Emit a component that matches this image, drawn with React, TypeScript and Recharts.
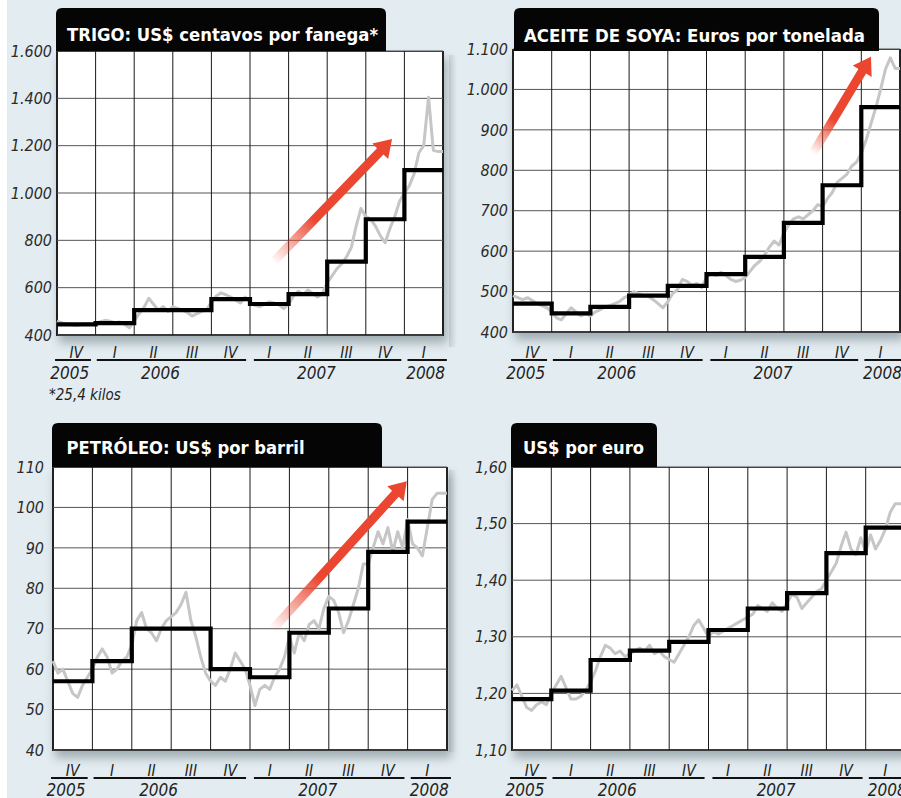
import React from "react";
import { LineChart, Line, XAxis, YAxis, CartesianGrid, ReferenceLine } from "recharts";

// quarter labels from Q4 2005 to Q1 2008, x axis runs 0..10 in quarters
const QUARTERS = ["IV", "I", "II", "III", "IV", "I", "II", "III", "IV", "I"];
const QUARTER_TICKS = [0.5, 1.5, 2.5, 3.5, 4.5, 5.5, 6.5, 7.5, 8.5, 9.5];
const QUARTER_BOUNDS = [1, 2, 3, 4, 5, 6, 7, 8, 9];
const YEARS = ["2005", "2006", "2007", "2008"];
const YEAR_CENTERS = [0.33, 2.68, 6.72, 9.55];
const YEAR_SPANS = [[-0.05, 0.88], [1.03, 4.9], [5.1, 8.92], [9.08, 10.1]];
const SAMPLES_PER_QUARTER = 8;

// Trigo, US$ centavos por fanega
const TRIGO_DAILY = [
  458, 452, 447, 443, 440, 445, 448, 444,
  450, 456, 462, 458, 452, 455, 445, 430,
  460, 490, 515, 555, 530, 505, 520, 500,
  520, 512, 505, 495, 480, 490, 500, 505,
  540, 565, 578, 570, 560, 548, 535, 560,
  540, 525, 520, 530, 540, 535, 528, 512,
  530, 565, 585, 570, 590, 575, 560, 575,
  620, 650, 680, 700, 730, 770, 860, 935,
  900, 890, 860, 820, 790, 850, 900, 965,
  1000, 1030, 1080, 1170, 1200, 1405, 1180, 1175, 1175,
];
const TRIGO_QUARTER = [445, 450, 505, 505, 552, 531, 573, 710, 889, 1097];
const TRIGO_TICKS = [400, 600, 800, 1000, 1200, 1400, 1600];
const TRIGO_ARROW = [5.6, 708, 8.68, 1228];

// Aceite de soya, euros por tonelada
const SOYA_DAILY = [
  490, 485, 480, 485, 478, 470, 465, 460,
  450, 435, 430, 445, 460, 450, 440, 445,
  440, 450, 455, 462, 465, 470, 475, 485,
  490, 500, 495, 490, 488, 480, 470, 460,
  475, 495, 505, 530, 525, 515, 520, 510,
  535, 545, 540, 548, 540, 530, 525, 528,
  535, 550, 565, 575, 590, 610, 625, 615,
  645, 665, 680, 685, 680, 690, 700, 715,
  710, 730, 745, 770, 780, 790, 810, 820,
  842, 875, 915, 955, 1000, 1050, 1078, 1052, 1052,
];
const SOYA_QUARTER = [470, 446, 462, 490, 514, 543, 586, 670, 763, 956];
const SOYA_TICKS = [400, 500, 600, 700, 800, 900, 1000, 1100];
const SOYA_ARROW = [7.75, 842, 9.25, 1081];

// Petroleo, US$ por barril
const OIL_DAILY = [
  62, 59, 60, 57, 54, 53, 56, 58,
  60, 63, 65, 63, 59, 60, 62, 63,
  66, 72, 74, 70, 69, 67, 70, 72,
  73, 74, 76, 79, 72, 68, 63, 59,
  57, 56, 58, 57, 60, 64, 62, 60,
  56, 51, 55, 56, 55, 58, 60, 63,
  68, 64, 69, 67, 71, 72, 70, 75,
  78, 77, 74, 69, 72, 76, 80, 86,
  86, 90, 94, 91, 95, 89, 94, 90,
  97, 91, 90, 88, 95, 102, 103.5, 103.5, 103.5,
];
const OIL_QUARTER = [57, 62, 70, 70, 60, 58, 69, 75, 89, 96.5];
const OIL_TICKS = [40, 50, 60, 70, 80, 90, 100, 110];
const OIL_ARROW = [5.56, 69.7, 8.98, 106.5];

// US$ por euro
const EUR_DAILY = [
  1.205, 1.215, 1.195, 1.175, 1.17, 1.18, 1.185, 1.18,
  1.2, 1.215, 1.23, 1.21, 1.19, 1.19, 1.195, 1.205,
  1.22, 1.24, 1.265, 1.285, 1.28, 1.27, 1.275, 1.265,
  1.27, 1.275, 1.28, 1.275, 1.285, 1.27, 1.275, 1.265,
  1.26, 1.255, 1.27, 1.285, 1.3, 1.32, 1.33, 1.315,
  1.3, 1.31, 1.305, 1.31, 1.315, 1.32, 1.325, 1.33,
  1.335, 1.34, 1.355, 1.35, 1.345, 1.36, 1.35, 1.345,
  1.36, 1.375, 1.37, 1.35, 1.36, 1.37, 1.38, 1.385,
  1.4, 1.415, 1.43, 1.46, 1.485, 1.455, 1.445, 1.475,
  1.45, 1.48, 1.455, 1.47, 1.49, 1.52, 1.535, 1.535, 1.535,
];
const EUR_QUARTER = [1.19, 1.205, 1.259, 1.2755, 1.291, 1.312, 1.35, 1.377, 1.448, 1.493];
const EUR_TICKS = [1.1, 1.2, 1.3, 1.4, 1.5, 1.6];

const BG = "#e3ecf0";
const NARROW =
  "'Liberation Sans Narrow', 'Arial Narrow', 'DejaVu Sans Condensed', 'Roboto Condensed', 'Liberation Sans', Arial, sans-serif";

const thousands = (v: number) =>
  v >= 1000 ? `${Math.floor(v / 1000)}.${String(v % 1000).padStart(3, "0")}` : String(v);
const comma2 = (v: number) => v.toFixed(2).replace(".", ",");

function dailyPoints(vals: number[]) {
  return vals.map((v, i) => ({ x: i / SAMPLES_PER_QUARTER, v }));
}
function stepPoints(vals: number[]) {
  const pts = vals.map((v, i) => ({ x: i, v }));
  pts.push({ x: vals.length, v: vals[vals.length - 1] });
  return pts;
}

function arrowShape(id: string) {
  return (p: any) => {
    const { x1, y1, x2, y2 } = p;
    if ([x1, y1, x2, y2].some((n) => typeof n !== "number" || isNaN(n))) return <g />;
    const dx = x2 - x1, dy = y2 - y1;
    const len = Math.hypot(dx, dy);
    const ux = dx / len, uy = dy / len;
    const nx = -uy, ny = ux;
    const hw = 4.5, hh = 11, hl = 17;
    const bx = x2 - ux * hl, by = y2 - uy * hl;
    const pts = [
      [x1 + nx * hw, y1 + ny * hw],
      [bx + nx * hw, by + ny * hw],
      [bx + nx * hh, by + ny * hh],
      [x2, y2],
      [bx - nx * hh, by - ny * hh],
      [bx - nx * hw, by - ny * hw],
      [x1 - nx * hw, y1 - ny * hw],
    ];
    return (
      <g>
        <defs>
          <linearGradient id={id} gradientUnits="userSpaceOnUse" x1={x1} y1={y1} x2={x2} y2={y2}>
            <stop offset="0" stopColor="#ea4630" stopOpacity={0} />
            <stop offset="0.35" stopColor="#ea4630" stopOpacity={1} />
            <stop offset="1" stopColor="#ea4630" stopOpacity={1} />
          </linearGradient>
        </defs>
        <polygon points={pts.map((q) => q.join(",")).join(" ")} fill={`url(#${id})`} />
      </g>
    );
  };
}

type PanelProps = {
  id: string;
  left: number;
  top: number;
  width: number;
  height: number;
  domain: [number, number];
  ticks: number[];
  fmt: (v: number) => string;
  daily: number[];
  quarter: number[];
  arrow?: number[];
  title: string;
  tab: number[]; // x, y, w, h
  titleWidth: number;
  titlePad: number;
  titleBase: number;
  labelGap: number;
  labelShift: number;
  yearShift: number;
};

function Panel(p: PanelProps) {
  const YW = 60;
  const W = p.width + YW + 10;
  const H = p.height + 10 + 60;
  const qw = p.width / 10;

  // quarter numerals; the first tick also draws the year rules and year labels
  const QuarterTick = (t: any) => {
    const v = t.payload.value;
    const px = (q: number) => t.x - (v - q) * qw;
    const base = t.y + p.labelShift;
    return (
      <g>
        <text
          x={t.x}
          y={base + 25.5}
          textAnchor="middle"
          fontFamily={NARROW}
          fontStyle="italic"
          fontSize={15.5}
          fill="#222"
        >
          {QUARTERS[Math.round(v - 0.5)]}
        </text>
        {v === QUARTER_TICKS[0] &&
          YEARS.map((yr, i) => (
            <g key={yr}>
              <line
                x1={px(YEAR_SPANS[i][0])}
                x2={px(YEAR_SPANS[i][1])}
                y1={base + 28}
                y2={base + 28}
                stroke="#111"
                strokeWidth={2}
              />
              <text
                x={px(YEAR_CENTERS[i])}
                y={base + 46.5 + p.yearShift}
                textAnchor="middle"
                fontFamily={NARROW}
                fontStyle="italic"
                fontSize={17}
                fill="#222"
              >
                {yr}
              </text>
            </g>
          ))}
      </g>
    );
  };

  const [tx, ty, tw, th] = p.tab;
  const r = 6;

  return (
    <>
      <div
        style={{
          position: "absolute",
          left: p.left - 1,
          top: p.top,
          width: p.width + 2,
          height: p.height + 1,
          boxSizing: "border-box",
          background: "#fff",
          borderLeft: "2px solid #222",
          borderRight: "2px solid #222",
          borderBottom: "2.5px solid #222",
          borderTop: "1px solid #333",
          boxShadow: "3px 7px 9px rgba(40,60,70,0.35)",
        }}
      />
      <div style={{ position: "absolute", left: p.left - YW, top: p.top - 10, width: W, height: H }}>
        <LineChart width={W} height={H} margin={{ top: 10, right: 10, left: 0, bottom: 0 }}>
          <XAxis
            xAxisId="q"
            type="number"
            dataKey="x"
            domain={[0, 10]}
            ticks={QUARTER_TICKS}
            interval={0}
            axisLine={false}
            tickLine={false}
            tickSize={0}
            tickMargin={0}
            height={60}
            tick={QuarterTick}
          />
          <YAxis
            type="number"
            domain={p.domain}
            ticks={p.ticks}
            interval={0}
            width={YW}
            axisLine={false}
            tickLine={false}
            tickSize={0}
            tickMargin={p.labelGap}
            tickFormatter={p.fmt}
            tick={{ fontFamily: NARROW, fontStyle: "italic", fontSize: 16, fill: "#2a2a2a" }}
          />
          <CartesianGrid xAxisId="q" vertical={false} stroke="#555" strokeWidth={1} />
          {QUARTER_BOUNDS.map((b) => (
            <ReferenceLine key={b} xAxisId="q" x={b} stroke="#1a1a1a" strokeWidth={1} />
          ))}
          {p.arrow && (
            <ReferenceLine
              xAxisId="q"
              ifOverflow="visible"
              segment={[
                { x: p.arrow[0], y: p.arrow[1] },
                { x: p.arrow[2], y: p.arrow[3] },
              ]}
              shape={arrowShape(`arrow-${p.id}`)}
            />
          )}
          <Line
            xAxisId="q"
            data={dailyPoints(p.daily)}
            dataKey="v"
            type="linear"
            stroke="#c6c6c6"
            strokeWidth={3}
            strokeLinejoin="round"
            dot={false}
            isAnimationActive={false}
          />
          <Line
            xAxisId="q"
            data={stepPoints(p.quarter)}
            dataKey="v"
            type="stepAfter"
            stroke="#000"
            strokeWidth={4.2}
            dot={false}
            isAnimationActive={false}
          />
        </LineChart>
      </div>
      <svg style={{ position: "absolute", left: tx, top: ty }} width={tw} height={th}>
        <path d={`M0,${th} V${r} Q0,0 ${r},0 H${tw - r} Q${tw},0 ${tw},${r} V${th} Z`} fill="#050505" />
        <text
          x={p.titlePad}
          y={p.titleBase}
          fill="#fff"
          fontFamily={NARROW}
          fontWeight={700}
          fontSize={18.5}
          textLength={p.titleWidth}
          lengthAdjust="spacingAndGlyphs"
        >
          {p.title}
        </text>
      </svg>
    </>
  );
}

export default function App() {
  return (
    <div
      style={{
        position: "absolute",
        left: 0,
        top: 0,
        width: 901,
        height: 798,
        overflow: "hidden",
        background: "#fff",
      }}
    >
      <div style={{ position: "absolute", left: 7, top: 0, right: 0, bottom: 0, background: BG }} />
      <div
        style={{
          position: "absolute",
          left: 449,
          top: 55,
          width: 8,
          height: 292,
          background: "linear-gradient(to right, #cdd5d9, " + BG + ")",
        }}
      />
      <div
        style={{
          position: "absolute",
          left: 449,
          top: 470,
          width: 8,
          height: 282,
          background: "linear-gradient(to right, #cdd5d9, " + BG + ")",
        }}
      />
      <Panel
        id="trigo"
        left={57}
        top={51}
        width={386}
        height={284}
        domain={[400, 1600]}
        ticks={TRIGO_TICKS}
        fmt={thousands}
        daily={TRIGO_DAILY}
        quarter={TRIGO_QUARTER}
        arrow={TRIGO_ARROW}
        title="TRIGO: US$ centavos por fanega*"
        tab={[56, 8, 330, 43]}
        titleWidth={311}
        titlePad={11}
        titleBase={33}
        labelGap={5}
        labelShift={-3}
        yearShift={0}
      />
      <Panel
        id="soya"
        left={513}
        top={49}
        width={387}
        height={283}
        domain={[400, 1100]}
        ticks={SOYA_TICKS}
        fmt={thousands}
        daily={SOYA_DAILY}
        quarter={SOYA_QUARTER}
        arrow={SOYA_ARROW}
        title="ACEITE DE SOYA: Euros por tonelada"
        tab={[514, 8, 365, 43]}
        titleWidth={341}
        titlePad={10}
        titleBase={33.5}
        labelGap={5}
        labelShift={0}
        yearShift={0}
      />
      <Panel
        id="oil"
        left={53}
        top={467}
        width={394}
        height={283}
        domain={[40, 110]}
        ticks={OIL_TICKS}
        fmt={(v) => String(v)}
        daily={OIL_DAILY}
        quarter={OIL_QUARTER}
        arrow={OIL_ARROW}
        title="PETRÓLEO: US$ por barril"
        tab={[52, 423, 330, 44]}
        titleWidth={238}
        titlePad={14.5}
        titleBase={30.5}
        labelGap={9}
        labelShift={0}
        yearShift={-1}
      />
      <Panel
        id="eur"
        left={512}
        top={467}
        width={393}
        height={283}
        domain={[1.1, 1.6]}
        ticks={EUR_TICKS}
        fmt={comma2}
        daily={EUR_DAILY}
        quarter={EUR_QUARTER}
        title="US$ por euro"
        tab={[511, 423, 146, 44]}
        titleWidth={121}
        titlePad={12}
        titleBase={30.5}
        labelGap={5}
        labelShift={0}
        yearShift={-1}
      />
      <div
        style={{
          position: "absolute",
          left: 49,
          top: 386,
          fontFamily: NARROW,
          fontStyle: "italic",
          fontSize: 15,
          lineHeight: "18px",
          color: "#222",
        }}
      >
        *25,4 kilos
      </div>
    </div>
  );
}
